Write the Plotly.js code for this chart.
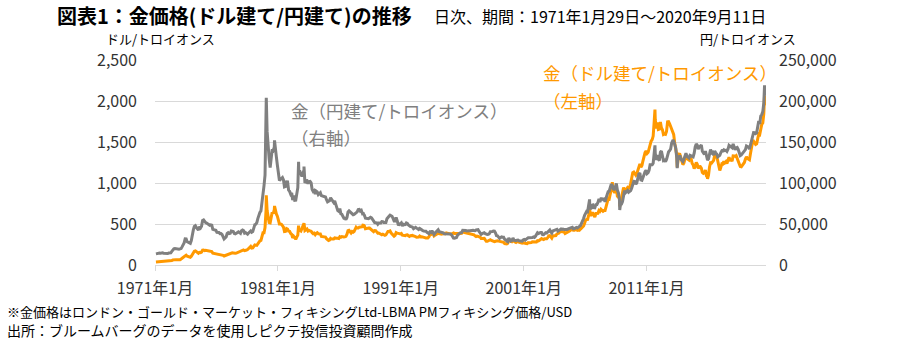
<!DOCTYPE html>
<html>
<head>
<meta charset="utf-8">
<script src="https://cdn.plot.ly/plotly-3.0.1.min.js"></script>
<style>
html,body{margin:0;padding:0;background:#fff;}
#chart{width:914px;height:350px;}
</style>
</head>
<body>
<div id="chart"></div>
<script>
// ---- DATA ----
const firstYear = 1971; // monthly values start January 1971 (mid-month)
const usdMonthly = [
37.9,38.7,38.9,39.0,40.5,40.1,41.0,42.7,42.0,42.5,42.9,43.5,
45.7,48.3,48.3,49.0,54.6,62.1,65.7,67.0,65.5,64.9,62.9,63.9,
65.1,74.2,84.4,90.5,102.0,120.1,120.2,106.8,103.0,100.1,94.8,106.7,
129,150,168,172,163,154,143,154,151,158,181,183,
176,180,178,170,167,164,165,163,144,142,143,139,
131,131,132,128,128,125,118,110,115,117,130,134,
132,136,148,149,147,141,143,145,150,159,162,161,
173,178,183,175,176,183,188,206,212,227,206,208,
227,245,242,239,257,279,295,301,355,392,392,456,
675,665,554,517,514,600,644,627,674,661,623,595,
557,500,499,495,480,461,409,411,443,437,413,410,
384,374,330,350,333,314,340,364,436,422,414,444,
481,491,420,432,438,413,422,416,412,394,382,388,
370,386,394,381,377,378,348,348,341,340,341,321,
303,299,304,325,316,317,317,330,323,326,325,322,
345,339,346,340,342,343,348,376,418,423,398,391,
408,401,409,438,461,450,450,461,460,466,467,487,
477,442,444,452,451,451,437,432,413,406,420,419,
404,388,390,384,371,368,375,365,362,367,394,409,
410,416,393,374,369,352,362,395,389,381,382,378,
384,364,363,358,357,367,368,356,349,358,360,361,
354,354,345,338,337,341,353,343,345,344,335,334,
329,330,330,342,367,371,392,379,355,364,374,383,
387,382,384,377,381,385,385,380,391,389,384,379,
379,376,382,391,385,387,386,383,383,383,386,387,
400,405,396,393,392,385,383,387,383,381,378,369,
355,347,352,344,344,341,324,324,323,325,306,289,
289,297,296,308,299,292,293,284,289,296,294,291,
287,287,286,282,277,261,256,257,265,311,293,283,
284,300,286,280,275,285,282,274,273,270,266,272,
266,262,263,261,272,270,268,273,283,283,276,276,
282,296,294,302,314,322,314,310,319,317,319,333,
356,359,340,328,355,356,351,360,378,379,389,407,
414,405,406,404,384,392,398,400,406,420,439,442,
424,423,434,428,422,430,424,438,456,470,476,510,
549,555,557,610,676,596,633,632,598,586,628,629,
631,665,655,679,667,655,665,665,712,754,806,803,
889,922,968,909,889,889,939,839,829,806,760,816,
858,943,924,890,928,946,934,949,996,1043,1127,1134,
1118,1095,1113,1148,1205,1232,1193,1215,1271,1343,1370,1391,
1360,1374,1424,1473,1510,1529,1572,1756,1772,1665,1739,1652,
1656,1743,1675,1649,1591,1598,1594,1630,1745,1747,1722,1685,
1671,1628,1593,1487,1414,1343,1286,1352,1349,1316,1275,1225,
1244,1300,1336,1299,1288,1279,1311,1296,1239,1222,1176,1201,
1251,1227,1178,1198,1199,1181,1128,1117,1125,1157,1086,1068,
1097,1199,1246,1243,1261,1276,1337,1341,1326,1267,1236,1152,
1192,1234,1231,1266,1246,1260,1237,1283,1314,1280,1283,1265,
1331,1330,1325,1334,1303,1281,1238,1201,1198,1215,1220,1250,
1291,1320,1300,1285,1284,1359,1413,1500,1510,1495,1471,1479,
1560,1597,1591,1683,1715,1732,1846,1968
];
const jpyMonthly = [
13570,13850,13930,13960,14500,14360,14680,14950,14200,14030,14070,13700,
13940,14630,14630,14900,16600,18750,19780,20170,19720,19530,19000,19300,
19660,20030,22110,23980,27030,31830,31730,28300,27400,26630,26450,29880,
38700,43050,47040,47990,45640,43740,42610,46660,45150,47240,54300,54900,
52270,51660,51090,49810,48760,48540,49000,48570,43490,42880,43190,42400,
39820,39560,39600,38270,38400,37250,34570,31790,33000,34160,38480,39400,
38280,38620,41440,41270,40720,38350,37900,38720,39750,40390,39530,38640,
41870,42720,42090,38850,39600,38800,37600,39140,40280,41540,39960,40770,
44950,49250,49610,51620,56540,60820,64020,65920,79520,92900,96820,109440,
160650,162930,138500,129770,118730,131400,141040,139820,143560,138810,132080,121980,
112510,103000,104290,105930,106560,103730,95300,95760,101450,101380,91270,89790,
86400,87890,79200,84700,78920,79130,87040,94280,114670,114360,109300,107890,
112070,115880,99960,102820,102930,99120,101700,101920,100120,92200,89770,90790,
86580,89940,89040,85730,87090,88070,84560,84220,83550,83980,82860,79610,
76960,77740,78430,81900,79630,78930,76400,78210,73640,70090,66300,65370,
69000,62380,61930,59500,57110,57280,55330,57900,64790,65990,64870,63340,
62830,61350,61760,62630,64540,64800,67500,67770,65780,66640,63050,62340,
60580,57020,56830,56500,56380,57280,58120,57460,55340,52370,51660,51540,
51310,49660,51090,51070,51200,52990,52880,51830,51770,51750,56340,58490,
59450,60740,60130,59470,56830,53860,53940,58070,54070,49530,49280,50650,
51460,47680,49730,49050,49270,51380,50780,48770,47120,46900,46800,46210,
44250,45310,45890,44950,44150,43310,44480,43220,42440,41970,41540,41420,
41130,39930,38610,38300,40370,39700,41940,39420,37280,38950,40390,42130,
42960,40490,40320,39210,39620,39270,38120,38000,38710,38120,37630,37900,
37900,36850,34380,32840,32730,32900,33580,36390,38300,38680,39370,39470,
42400,42530,41980,42050,41550,41970,41750,41800,42130,42670,42340,42070,
41890,42680,43300,43000,40940,38870,37260,38230,39080,39330,38250,37570,
37280,37420,38180,40660,40370,40880,41310,41180,39020,35820,35570,34340,
32430,33580,34320,33840,33790,31320,30720,29040,28360,32970,30470,29150,
29820,33000,30320,29680,29700,30210,30460,29590,29210,29160,28990,30460,
31120,30390,31820,32360,33180,33210,33500,33310,33390,34240,33670,35050,
37220,39370,38510,39560,39560,39610,37050,36890,38600,39310,38920,40630,
42010,42720,40460,39030,41540,42010,41770,42480,43470,41310,42400,43550,
43880,43340,43850,43230,43010,43120,43380,44000,44660,45780,45660,45970,
44100,44420,45570,45800,45150,46870,47060,48180,50620,53580,56640,60690,
63680,65490,65170,71370,75040,67940,72800,73310,69970,69730,73480,73590,
76350,80470,76640,80800,80710,79910,80470,77140,81880,87460,89470,89940,
95120,98650,96800,92720,92460,95120,99530,91450,87870,80600,73720,74260,
77220,87700,90550,88110,89090,90820,88730,90160,90640,93870,100300,102060,
101740,98550,100170,107910,110860,112110,103790,103280,108040,110130,113710,115450,
111520,112670,115340,122260,122310,122320,124190,135210,136440,128210,133900,128860,
127510,137700,139030,133570,127280,127840,125930,128770,136110,138010,139480,141540,
148720,151400,151340,145730,142810,130270,128600,132500,133550,128970,127500,126180,
129380,132600,136270,132500,131380,130460,133720,133490,132570,131980,136420,144120,
147620,146010,141360,143760,145080,146440,138740,137390,135000,138840,133580,130300,
129450,137890,140800,136730,137450,133980,139050,136780,135250,131770,133490,133630,
137080,139440,139100,140530,139550,139860,138540,141130,145850,144640,143700,142950,
147740,143640,140450,142740,143330,140910,137420,133310,134180,136080,137860,140000,
140720,145200,144300,143920,141240,146770,152600,159000,161570,161460,160340,161210,
170040,175670,171830,181760,183510,187060,197520,208610
];
// daily extremes (date, USD, JPY)
const extraDates = ['1971-01-29','1980-01-21','1980-09-22','1982-09-07','1983-02-15','1987-12-14','2006-05-12','2008-03-17','2008-10-24','2011-08-22','2011-09-06','2013-06-28','2015-12-17','2020-08-06','2020-09-11'];
const extraUsd   = [37.9, 850, 720, 480, 509, 500, 725, 1011, 713, 1877, 1895, 1192, 1050, 2067, 1947];
const extraJpy   = [13570, 204000, 152000, 126000, 120000, 64000, 80000, 97000, 67000, 144000, 146000, 118000, 128000, 219000, 206500];

const tickDates  = ['1971-01-01','1981-01-01','1991-01-01','2001-01-01','2011-01-01'];
const tickLabels = ['1971年1月','1981年1月','1991年1月','2001年1月','2011年1月'];

// ---- BUILD ----
const rows = [];
for (let i = 1; i < usdMonthly.length; i++) { // Jan 1971 starts on the 29th (extras)
  const y = firstYear + Math.floor(i / 12);
  const m = (i % 12) + 1;
  rows.push({d: y + '-' + String(m).padStart(2,'0') + '-15', u: usdMonthly[i], j: jpyMonthly[i]});
}
for (let k = 0; k < extraDates.length; k++) rows.push({d: extraDates[k], u: extraUsd[k], j: extraJpy[k]});
rows.sort((a,b) => a.d < b.d ? -1 : a.d > b.d ? 1 : 0);
const dates = rows.map(r => r.d);
const usd = rows.map(r => r.u);
const jpy = rows.map(r => r.j);

const FONT = '"Noto Sans CJK JP", "Noto Sans", sans-serif';
const ORANGE = '#ff9900';
const GRAY = '#808080';
const TXT = '#333333';

const traces = [
  {x: dates, y: usd, type: 'scatter', mode: 'lines', name: '金（ドル建て）',
   line: {color: ORANGE, width: 3}, yaxis: 'y', hoverinfo: 'skip'},
  {x: dates, y: jpy, type: 'scatter', mode: 'lines', name: '金（円建て）',
   line: {color: GRAY, width: 3}, yaxis: 'y2', hoverinfo: 'skip'}
];

function px2x(px){ return (px - 155) / 611; }
function py2y(py){ return (265 - py) / 205; }

function note(text, px, py, size, color, bold, anchor){
  return {text: bold ? '<b>' + text + '</b>' : text, xref: 'paper', yref: 'paper',
    x: px2x(px), y: py2y(py), xanchor: anchor || 'left', yanchor: 'middle', showarrow: false,
    align: anchor || 'left', font: {family: FONT, size: size, color: color}};
}

const layout = {
  width: 914, height: 350,
  margin: {l: 155, r: 148, t: 60, b: 85},
  paper_bgcolor: '#ffffff', plot_bgcolor: '#ffffff',
  showlegend: false,
  font: {family: FONT, color: TXT, size: 16},
  xaxis: {
    type: 'date', range: ['1971-01-01', '2020-09-18'],
    tickmode: 'array', tickvals: tickDates, ticktext: tickLabels,
    showgrid: false, zeroline: false, automargin: false,
    showline: true, linecolor: '#d9d9d9', linewidth: 1,
    ticks: 'outside', ticklen: 5, tickcolor: '#d9d9d9',
    tickfont: {family: FONT, size: 16, color: TXT}, ticklabelstandoff: 4
  },
  yaxis: {
    range: [0, 2500], tickmode: 'linear', tick0: 0, dtick: 500, automargin: false,
    tickformat: ',d', showgrid: true, gridcolor: '#d9d9d9', gridwidth: 1,
    zeroline: false, showline: false, ticks: '',
    tickfont: {family: FONT, size: 16, color: TXT}, ticklabelstandoff: 17
  },
  yaxis2: {
    range: [0, 250000], tickmode: 'linear', tick0: 0, dtick: 50000, automargin: false,
    tickformat: ',d', overlaying: 'y', side: 'right',
    showgrid: false, zeroline: false, showline: false, ticks: '',
    tickfont: {family: FONT, size: 16, color: TXT}, ticklabelstandoff: 12
  },
  annotations: [
    note('図表1：金価格(ドル建て/円建て)の推移', 55, 15, 20, '#000', true),
    note('日次、期間：1971年1月29日～2020年9月11日', 432, 16, 16, '#000', false),
    note('ドル/トロイオンス', 217, 39, 13, '#000', false, 'right'),
    note('円/トロイオンス', 698, 39, 13, '#000', false),
    note('金（円建て/トロイオンス）', 289, 110, 17.5, GRAY, false),
    note('（右軸）', 289, 137, 17.5, GRAY, false),
    note('金（ドル建て/トロイオンス）', 541, 73, 17.5, ORANGE, false),
    note('（左軸）', 541, 100, 17.5, ORANGE, false),
    note('※金価格はロンドン・ゴールド・マーケット・フィキシングLtd-LBMA PMフィキシング価格/USD', 5, 311, 13, '#000', false),
    note('出所：ブルームバーグのデータを使用しピクテ投信投資顧問作成', 5, 330, 14, '#000', false)
  ]
};

Plotly.newPlot('chart', traces, layout, {staticPlot: true, displayModeBar: false});
</script>
</body>
</html>
